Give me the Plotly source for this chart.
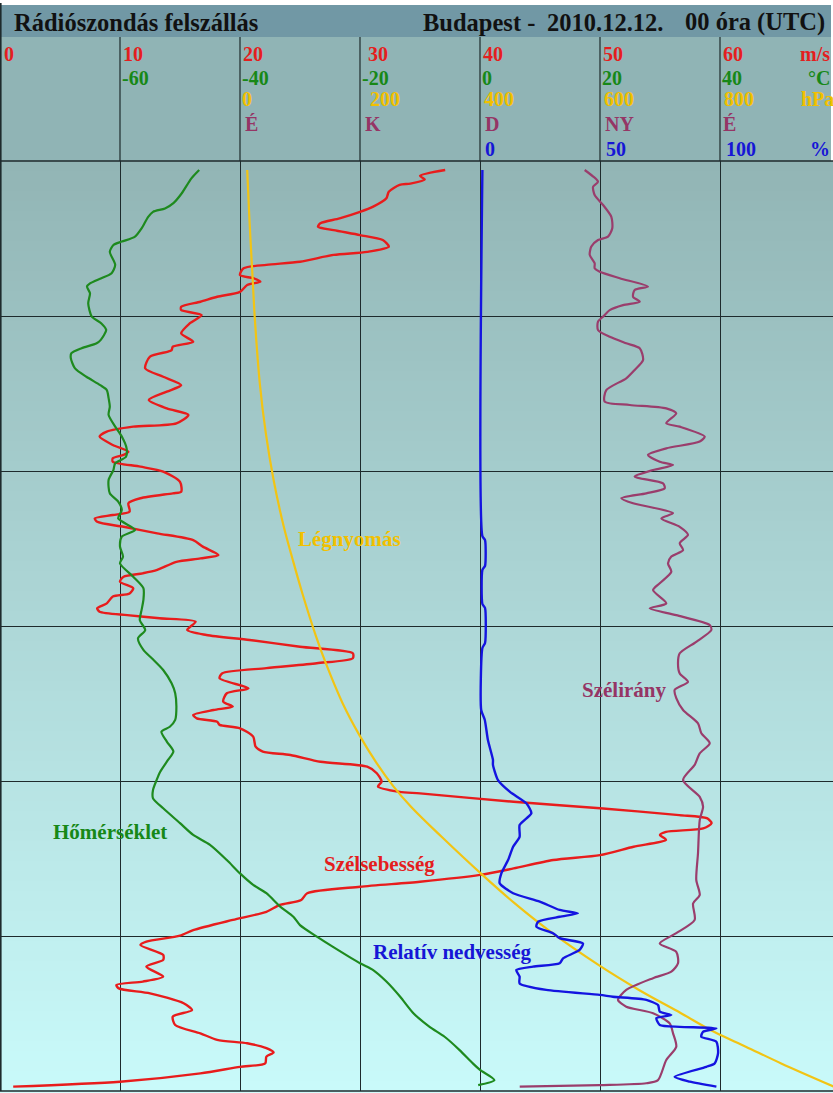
import plotly.graph_objects as go

# ---------------------------------------------------------------- data
# Altitude (km) and measured values of the sounding, top to bottom.

alt_temp = [29.71, 29.44, 28.96, 28.64, 28.47, 28.36, 28.20, 27.83, 27.56, 27.40,
            27.29, 27.07, 26.65, 26.38, 26.22, 26.05, 25.95, 25.73, 25.41, 24.98,
            24.76, 24.55, 24.23, 24.12, 23.96, 23.80, 23.64, 23.31, 23.04, 22.77,
            22.61, 22.35, 22.07, 21.81, 21.43, 21.11, 20.73, 20.46, 20.25, 20.03,
            19.71, 19.28, 19.01, 18.74, 18.47, 18.10, 17.88, 17.56, 17.24, 17.02,
            16.59, 16.22, 15.84, 15.52, 15.19, 14.87, 14.60, 14.23, 13.96, 13.58,
            13.15, 12.83, 12.40, 11.97, 11.75, 11.59, 11.27, 10.95, 10.68, 10.30,
            10.03, 9.71, 9.44, 9.12, 8.64, 8.26, 7.94, 7.45, 7.02, 6.65,
            6.38, 5.95, 5.62, 5.35, 4.98, 4.65, 4.12, 3.90, 3.53, 3.04,
            2.51, 2.07, 1.75, 1.32, 0.89, 0.68, 0.35, 0.19]
temp_c = [-46.8, -48.1, -49.7, -51.1, -52.5, -54.5, -55.3, -56.4, -57.5, -59.7,
          -61.1, -61.7, -60.8, -61.4, -63.1, -65.0, -65.5, -65.0, -65.3, -64.7,
          -63.1, -62.3, -63.2, -63.9, -66.4, -68.1, -68.2, -67.5, -65.6, -63.3,
          -62.2, -61.9, -61.7, -61.9, -60.8, -59.7, -58.9, -59.0, -60.8, -61.1,
          -61.9, -61.7, -60.3, -59.7, -60.3, -57.5, -59.7, -60.0, -59.5, -60.0,
          -57.8, -56.1, -56.1, -56.4, -56.7, -55.8, -57.0, -56.1, -54.7, -52.8,
          -51.4, -50.8, -50.6, -50.8, -51.7, -53.1, -52.2, -51.1, -52.0, -53.3,
          -53.9, -54.5, -54.5, -52.8, -50.0, -47.8, -45.0, -42.2, -40.0, -37.8,
          -35.6, -33.3, -31.1, -30.0, -27.2, -24.5, -20.0, -17.8, -15.6, -13.3,
          -11.1, -8.4, -5.9, -3.4, -1.2, 0.0, 2.4, -0.3]

alt_wind = [29.71, 29.52, 29.40, 29.27, 29.23, 29.01, 28.80, 28.53, 28.36, 28.15,
            27.99, 27.88, 27.77, 27.61, 27.45, 27.24, 27.07, 26.97, 26.75, 26.65,
            26.54, 26.32, 26.22, 26.11, 26.00, 25.78, 25.62, 25.46, 25.30, 25.19,
            25.03, 24.76, 24.44, 24.17, 24.01, 23.90, 23.85, 23.69, 23.31, 23.04,
            22.77, 22.56, 22.29, 22.02, 21.81, 21.54, 21.43, 21.27, 21.11, 20.84,
            20.62, 20.52, 20.41, 20.30, 20.14, 19.98, 19.65, 19.33, 19.28, 19.12,
            18.96, 18.69, 18.58, 18.47, 18.36, 18.20, 17.99, 17.77, 17.56, 17.29,
            17.18, 17.07, 16.81, 16.70, 16.59, 16.43, 16.22, 16.05, 15.95, 15.73,
            15.57, 15.46, 15.35, 15.25, 15.14, 14.87, 14.71, 14.55, 14.33, 14.12,
            13.96, 13.80, 13.64, 13.47, 13.31, 12.99, 12.83, 12.56, 12.40, 12.29,
            12.13, 12.02, 11.91, 11.81, 11.70, 11.43, 11.11, 10.95, 10.84, 10.62,
            10.46, 10.25, 9.98, 9.82, 9.65, 9.60, 9.33, 9.12, 8.90, 8.80,
            8.64, 8.47, 8.36, 8.26, 8.10, 7.88, 7.61, 7.45, 7.18, 6.97,
            6.75, 6.59, 6.38, 6.16, 6.00, 5.78, 5.52, 5.19, 5.01, 4.82,
            4.71, 4.39, 4.23, 4.01, 3.69, 3.53, 3.42, 3.31, 3.15, 2.83,
            2.61, 2.40, 2.13, 1.86, 1.65, 1.54, 1.38, 1.24, 1.11, 0.89,
            0.78, 0.57, 0.30, 0.14]
wind_speed = [37.1, 35.0, 35.4, 34.2, 33.3, 32.4, 32.2, 31.1, 30.0, 28.3,
              26.7, 26.5, 27.8, 30.0, 31.9, 32.4, 30.6, 27.8, 25.0, 22.2,
              20.3, 20.0, 21.1, 21.7, 20.6, 20.0, 18.1, 16.7, 15.1, 15.1,
              16.8, 15.8, 15.1, 16.1, 14.4, 14.3, 14.0, 12.5, 12.1, 13.6,
              15.1, 13.9, 12.4, 13.9, 15.7, 14.7, 11.1, 8.9, 8.3, 9.4,
              10.7, 10.3, 9.4, 9.4, 11.7, 13.6, 15.0, 15.1, 14.4, 11.7,
              10.7, 10.8, 9.4, 7.9, 8.1, 10.3, 13.1, 16.1, 16.9, 18.2,
              16.7, 14.7, 13.1, 11.9, 10.3, 10.0, 11.1, 10.8, 9.4, 8.9,
              8.1, 8.3, 10.6, 13.3, 16.3, 15.6, 17.2, 20.8, 25.0, 29.4,
              29.4, 26.4, 22.2, 18.5, 18.3, 20.7, 18.9, 18.6, 19.4, 17.8,
              16.1, 16.4, 18.1, 18.3, 20.0, 21.1, 21.3, 21.9, 24.2, 26.7,
              30.6, 31.4, 31.8, 31.5, 33.3, 35.0, 42.8, 50.0, 56.6, 58.9,
              59.3, 58.6, 55.5, 55.0, 55.5, 52.8, 50.0, 46.1, 42.8, 40.0,
              35.0, 30.0, 25.6, 25.1, 23.3, 22.2, 19.4, 16.1, 15.0, 12.2,
              11.7, 13.6, 13.6, 12.2, 13.6, 11.9, 9.7, 9.9, 12.5, 15.3,
              16.0, 14.4, 14.6, 16.7, 18.1, 20.6, 22.2, 22.8, 22.2, 22.1,
              20.0, 16.7, 10.0, 1.1]

alt_dir = [29.71, 29.33, 29.17, 28.90, 28.58, 28.20, 27.83, 27.56, 27.45, 27.24,
           26.97, 26.70, 26.54, 26.43, 26.22, 25.95, 25.84, 25.62, 25.46, 25.35,
           25.19, 24.98, 24.82, 24.55, 24.33, 24.12, 23.96, 23.58, 23.26, 22.99,
           22.61, 22.24, 22.13, 22.02, 21.86, 21.54, 21.43, 21.11, 20.95, 20.73,
           20.52, 20.30, 20.19, 20.03, 19.82, 19.60, 19.44, 19.28, 19.12, 18.96,
           18.64, 18.47, 18.20, 17.94, 17.67, 17.45, 17.24, 17.02, 16.75, 16.38,
           16.16, 15.73, 15.57, 15.35, 15.03, 14.87, 14.49, 14.12, 13.80, 13.47,
           13.20, 12.94, 12.67, 12.29, 11.86, 11.54, 11.22, 10.89, 10.52, 10.03,
           9.49, 9.17, 8.74, 7.67, 6.81, 6.32, 6.05, 5.52, 5.09, 4.76,
           4.49, 4.12, 3.85, 3.64, 3.26, 2.94, 2.72, 2.51, 2.18, 1.86,
           1.43, 1.00, 0.35, 0.25, 0.19, 0.14]
wind_dir = [258.5, 268.5, 264.8, 266.0, 272.3, 278.5, 279.2, 276.0, 268.5, 263.5,
            262.3, 266.0, 266.0, 269.8, 284.8, 306.0, 296.0, 294.8, 299.8, 287.3,
            277.3, 272.3, 268.5, 268.5, 277.3, 289.7, 299.8, 302.3, 296.0, 289.7,
            274.7, 273.5, 292.3, 319.7, 327.2, 319.7, 329.8, 348.5, 344.8, 319.7,
            306.0, 314.8, 324.8, 309.8, 296.0, 317.3, 318.5, 304.7, 286.0, 294.8,
            324.8, 316.0, 329.8, 336.0, 329.8, 332.3, 323.5, 321.0, 323.5, 314.8,
            309.8, 319.7, 307.3, 327.2, 352.3, 353.5, 342.2, 329.8, 328.5, 329.8,
            336.0, 326.0, 327.2, 332.3, 343.5, 346.0, 352.3, 344.8, 341.0, 332.3,
            344.8, 347.3, 344.8, 343.5, 342.2, 344.8, 339.8, 341.0, 327.2, 314.8,
            327.2, 328.5, 323.5, 309.8, 289.7, 283.5, 289.7, 309.8, 322.3, 324.8,
            327.2, 319.7, 313.5, 304.7, 269.8, 209.8]

alt_rh = [29.71, 17.90, 17.77, 16.94, 16.81, 15.71, 15.58, 14.45, 14.29, 12.29,
          11.97, 11.32, 10.68, 10.52, 10.03, 9.65, 9.28, 8.96, 8.58, 8.20,
          7.88, 7.45, 7.02, 6.70, 6.38, 6.11, 5.84, 5.73, 5.62, 5.46,
          5.30, 5.09, 4.93, 4.76, 4.55, 4.28, 4.12, 4.01, 3.90, 3.69,
          3.47, 3.26, 3.10, 3.04, 2.94, 2.77, 2.56, 2.45, 2.35, 2.13,
          2.07, 2.02, 1.91, 1.75, 1.59, 1.22, 0.89, 0.78, 0.46, 0.30,
          0.14]
rel_hum = [1.0, 1.0, 2.1, 2.1, 1.0, 1.0, 2.1, 2.1, 1.0, 0.5,
           2.0, 3.3, 5.4, 5.4, 7.5, 12.5, 19.3, 21.4, 16.5, 16.5,
           13.8, 11.7, 8.9, 8.2, 13.8, 24.9, 33.2, 40.8, 33.2, 24.2,
           23.5, 30.4, 33.2, 42.9, 41.5, 34.6, 33.2, 22.1, 15.1, 16.5,
           16.5, 27.6, 49.9, 55.4, 69.3, 74.2, 74.9, 79.7, 73.5, 74.9,
           83.2, 98.5, 92.9, 92.2, 98.5, 99.2, 97.8, 94.3, 81.1, 87.4,
           98.5]

alt_pres = [29.71, 28.20, 26.05, 24.98, 22.83, 21.22, 19.71, 18.20, 17.13, 16.05,
            14.65, 13.80, 12.51, 11.48, 10.57, 9.82, 9.17, 8.20, 6.97, 6.05,
            5.19, 4.06, 3.26, 2.51, 1.91, 1.43, 0.89, 0.14]
pressure = [12.0, 15.5, 21.5, 24.5, 33.0, 43.0, 56.0, 73.0, 88.0, 104.0,
            127.0, 143.0, 171.0, 199.0, 228.0, 256.0, 285.0, 336.0, 404.0, 458.0,
            514.0, 598.0, 665.0, 735.0, 790.0, 843.0, 902.0, 990.0]

# Header scale labels for each quantity
speed_ticks = ["0", "10", "20", "30", "40", "50", "60"]
temp_ticks = ["-60", "-40", "-20", "0", "20", "40"]
pres_ticks = ["0", "200", "400", "600", "800"]
dir_ticks = ["É", "K", "D", "NY", "É"]
rh_ticks = ["0", "50", "100"]

# ---------------------------------------------------------------- layout
W, H = 833, 1093
TOP, BOTTOM = 161, 2                # plot area margins in px
PLOT_H = H - TOP - BOTTOM
COL = 120.0                         # px per grid column
NCOL = W / COL

C_RED, C_GREEN, C_YEL = "#E81C1C", "#1E8A1E", "#F2C414"
C_PUR, C_BLUE = "#9A3D6C", "#1414E0"
T_RED, T_GREEN, T_YEL = "#E41E1E", "#178817", "#F2C000"
T_PUR, T_BLUE = "#953565", "#1616D6"
SERIF = "Liberation Serif"


def px(x):
    return x / W


def py(y):
    return (H - BOTTOM - y) / PLOT_H


fig = go.Figure()

common = dict(mode="lines", hoverinfo="skip", showlegend=False,
              line_shape="spline")
fig.add_trace(go.Scatter(x=pressure, y=alt_pres, xaxis="x3",
                         line=dict(color=C_YEL, width=2.2, smoothing=1.0), **common))
fig.add_trace(go.Scatter(x=temp_c, y=alt_temp, xaxis="x2",
                         line=dict(color=C_GREEN, width=2.2, smoothing=0.7), **common))
fig.add_trace(go.Scatter(x=wind_dir, y=alt_dir, xaxis="x4",
                         line=dict(color=C_PUR, width=2.2, smoothing=0.7), **common))
fig.add_trace(go.Scatter(x=rel_hum, y=alt_rh, xaxis="x5",
                         line=dict(color=C_BLUE, width=2.4, smoothing=0.6), **common))
fig.add_trace(go.Scatter(x=wind_speed, y=alt_wind, xaxis="x",
                         line=dict(color=C_RED, width=2.4, smoothing=0.7), **common))

hidden = dict(visible=False, overlaying="x", anchor="y", fixedrange=True)

shapes = []
# vertical colour gradient of the sounding area
top_rgb, bot_rgb = (146, 181, 181), (201, 250, 250)
n_strips = 93
for i in range(n_strips):
    f = i / (n_strips - 1)
    c = tuple(round(top_rgb[k] + (bot_rgb[k] - top_rgb[k]) * f) for k in range(3))
    shapes.append(dict(type="rect", xref="paper", yref="paper", layer="below",
                       x0=0, x1=1, y0=1 - (i + 1) / n_strips - 0.002,
                       y1=1 - i / n_strips, line_width=0,
                       fillcolor="rgb(%d,%d,%d)" % c))
# header panel and title bar
shapes.append(dict(type="rect", xref="paper", yref="paper", layer="below",
                   x0=0, x1=px(831), y0=py(TOP), y1=py(37),
                   line_width=0, fillcolor="#90B4B5"))
shapes.append(dict(type="rect", xref="paper", yref="paper", layer="below",
                   x0=0, x1=px(831), y0=py(37), y1=py(5),
                   line_width=0, fillcolor="#7198A5"))
# grid lines continuing through the header
for k in range(1, 7):
    shapes.append(dict(type="line", xref="paper", yref="paper", layer="above",
                       x0=px(k * COL), x1=px(k * COL), y0=1, y1=py(37),
                       line=dict(color="#1E2A2C", width=1.2)))
# frame
shapes.append(dict(type="line", xref="paper", yref="paper", layer="above",
                   x0=px(0.8), x1=px(0.8), y0=0, y1=py(3),
                   line=dict(color="#1E2A2C", width=1.6)))
shapes.append(dict(type="line", xref="paper", yref="paper", layer="above",
                   x0=0, x1=1, y0=1, y1=1, line=dict(color="#1E2A2C", width=1.6)))
shapes.append(dict(type="line", xref="paper", yref="paper", layer="above",
                   x0=0, x1=1, y0=0, y1=0, line=dict(color="#1E2A2C", width=1.6)))

ann = []


def label(text, x, y, color, size=21, anchor="left", pad=1):
    ann.append(dict(text="<b>%s</b>" % text, x=px(x), y=py(y), xref="paper",
                    yref="paper", xanchor=anchor, yanchor="middle", borderpad=pad,
                    showarrow=False, font=dict(family=SERIF, size=size, color=color)))


# title bar
label("Rádiószondás felszállás", 12, 22, "#111111", size=24.5)
label("Budapest -", 421, 22, "#111111", size=24.5)
label("2010.12.12.", 545, 22, "#111111", size=24.5)
label("00 óra (UTC)", 683, 22, "#111111", size=24.5)

# header scales
HS = 20
for i, t in enumerate(speed_ticks):
    label(t, 3 if i == 0 else i * COL + (7 if i == 3 else 2), 54, T_RED, HS, pad=0)
label("m/s", 831, 54, T_RED, HS, anchor="right", pad=0)
for i, t in enumerate(temp_ticks):
    label(t, (i + 1) * COL + 1, 78, T_GREEN, HS, pad=0)
label("°C", 831, 78, T_GREEN, HS, anchor="right", pad=0)
for i, t in enumerate(pres_ticks):
    label(t, (i + 2) * COL + (1 if i == 0 else 9 if i == 1 else 3), 99, T_YEL, HS, pad=0)
label("hPa", 835, 99, T_YEL, HS, anchor="right", pad=0)
for i, t in enumerate(dir_ticks):
    label(t, (i + 2) * COL + (4 if i < 4 else 2), 124, T_PUR, HS, pad=0)
for i, t in enumerate(rh_ticks):
    label(t, (i + 4) * COL + (5 if i else 4), 149, T_BLUE, HS, pad=0)
label("%", 831, 149, T_BLUE, HS, anchor="right", pad=0)

# curve names
label("Légnyomás", 349, 539, T_YEL, anchor="center")
label("Szélirány", 624, 690, T_PUR, anchor="center")
label("Hőmérséklet", 110, 832, T_GREEN, anchor="center")
label("Szélsebesség", 379, 864, T_RED, anchor="center")
label("Relatív nedvesség", 452, 952, T_BLUE, anchor="center")

fig.update_layout(
    width=W, height=H,
    margin=dict(l=0, r=0, t=TOP, b=BOTTOM, pad=0),
    paper_bgcolor="white", plot_bgcolor="rgba(0,0,0,0)",
    xaxis=dict(range=[0, 10 * NCOL], showgrid=True, dtick=10, tick0=0,
               gridcolor="#1E2A2C", gridwidth=1.2, showticklabels=False,
               ticks="", zeroline=False, showline=False, fixedrange=True),
    xaxis2=dict(range=[-80, -80 + 20 * NCOL], **hidden),
    xaxis3=dict(range=[-400, -400 + 200 * NCOL], **hidden),
    xaxis4=dict(range=[-180, -180 + 90 * NCOL], **hidden),
    xaxis5=dict(range=[-200, -200 + 50 * NCOL], **hidden),
    yaxis=dict(range=[0, 30], showgrid=True, dtick=5, tick0=0,
               gridcolor="#1E2A2C", gridwidth=1.2, showticklabels=False,
               ticks="", zeroline=False, showline=False, fixedrange=True),
    shapes=shapes, annotations=ann,
)

fig.write_html("out.html")
